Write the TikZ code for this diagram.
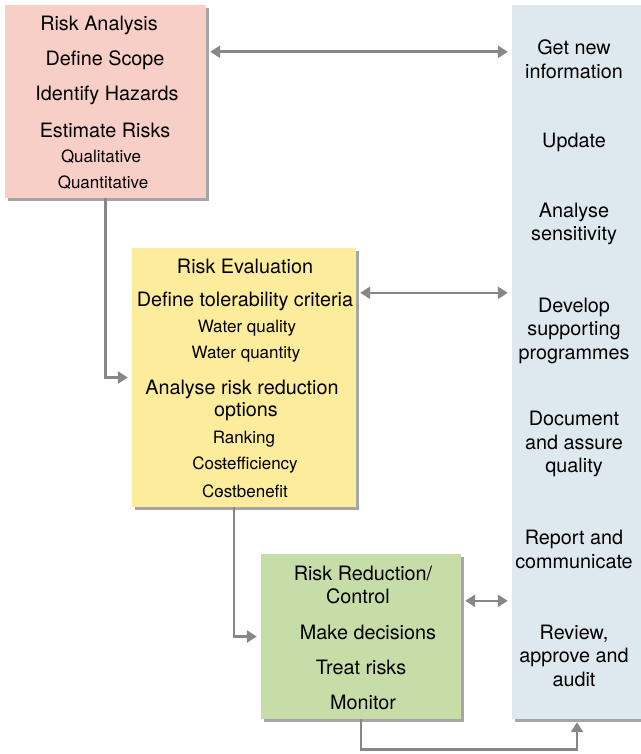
\documentclass[tikz,border=0pt]{standalone}
\usepackage{fontspec}
\setmainfont{TeX Gyre Heros}
\usetikzlibrary{arrows.meta,shadows,calc}
\definecolor{boxred}{HTML}{F8CFC7}
\definecolor{boxyellow}{HTML}{FDEC9B}
\definecolor{boxgreen}{HTML}{C6DDA8}
\definecolor{boxblue}{HTML}{DEE8EF}
\definecolor{linegray}{HTML}{878787}
\tikzset{
  panel/.style={draw=none, rectangle, inner sep=0pt,
    drop shadow={shadow xshift=3pt, shadow yshift=-3pt, fill=black, opacity=0.35}},
  big/.style={font=\fontsize{19.8}{23.5}\selectfont, align=center, inner sep=0pt},
  small/.style={font=\fontsize{17}{20}\selectfont, align=center, inner sep=0pt},
  conn/.style={draw=linegray, line width=2.6pt, -{Triangle[length=10pt,width=12pt]}},
  dconn/.style={draw=linegray, line width=2.6pt, {Triangle[length=10pt,width=12pt]}-{Triangle[length=10pt,width=12pt]}, shorten <=4pt, shorten >=4pt},
}
\begin{document}
\begin{tikzpicture}[x=1pt,y=-1pt]
\useasboundingbox (0,0) rectangle (640,754);
% panels
\node[panel, fill=boxblue, minimum width=133pt, minimum height=714pt] (blue) at (578.5,362) {};
\node[panel, fill=boxred, minimum width=201pt, minimum height=193pt] (red) at (105.5,101.5) {};
\node[panel, fill=boxyellow, minimum width=224pt, minimum height=259pt] (yellow) at (244,377.5) {};
\node[panel, fill=boxgreen, minimum width=200pt, minimum height=165pt] (green) at (361,636.5) {};
% red texts
\node[big] (r1) at (99,25) {Risk Analysis};
\node[big] (r2) at (105,60) {Define Scope};
\node[big] (r3) at (107,95) {Identify Hazards};
\node[big] (r4) at (105,130) {Estimate Risks};
\node[small] (r5) at (101,157) {Qualitative};
\node[small] (r6) at (103,183) {Quantitative};
% yellow texts
\node[big] (y1) at (245,266) {Risk Evaluation};
\node[big] (y2) at (245,301) {Define tolerability criteria};
\node[small] (y3) at (247,328) {Water quality};
\node[small] (y4) at (246,354) {Water quantity};
\node[big] (y5) at (242,389) {Analyse risk reduction};
\node[big] (y6) at (246,412) {options};
\node[small] (y7) at (244,439) {Ranking};
\node[small] (y8) at (245,465) {Cost\llap{-}efficiency};
\node[small] (y9) at (245,491) {Co\llap{-}stbenefit};
% green texts
\node[big] (g1) at (363,573) {Risk Reduction/};
\node[big] (g2) at (358,596) {Control};
\node[big] (g3) at (368,632) {Make decisions};
\node[big] (g4) at (361,667) {Treat risks};
\node[big] (g5) at (363,702) {Monitor};
% blue texts
\node[big] (b1) at (574,59.5) {Get new\\information};
\node[big] (b2) at (574,142) {Update};
\node[big] (b3) at (574,224) {Analyse\\sensitivity};
\node[big] (b4) at (574,330.5) {Develop\\supporting\\programmes};
\node[big] (b5) at (574,444) {Document\\and assure\\quality};
\node[big] (b6) at (574,549.5) {Report and\\communicate};
\node[big] (b7) at (574,655.5) {Review,\\approve and\\audit};
% connectors
\draw[dconn] ([yshift=-47pt]red.north east) -- ([yshift=-47pt]red.north east -| blue.west);
\draw[dconn] ([yshift=-45pt]yellow.north east) -- ([yshift=-45pt]yellow.north east -| blue.west);
\draw[dconn] ([yshift=-47pt]green.north east) -- ([yshift=-47pt]green.north east -| blue.west);
\draw[conn, shorten >=4pt] (red.south) |- (yellow.west);
\draw[conn, shorten >=4pt] ([xshift=-10pt]yellow.south) |- (green.west);
\draw[conn, shorten >=3pt] (green.south) -- ++(0,30) -| ([xshift=-1.5pt]blue.south);
\end{tikzpicture}
\end{document}
